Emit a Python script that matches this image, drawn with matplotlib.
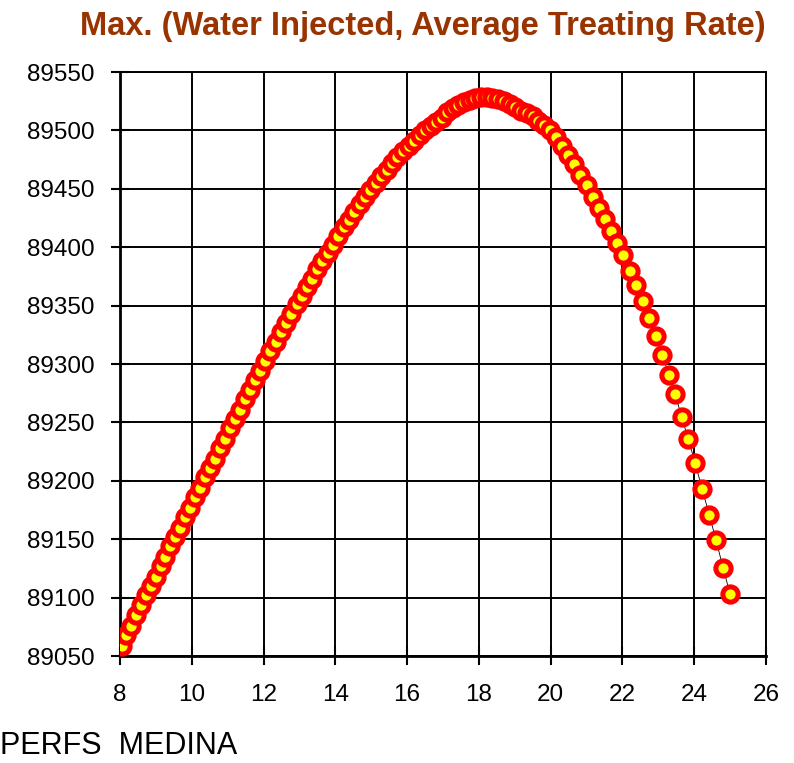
#!/usr/bin/env python3
import matplotlib
matplotlib.use("Agg")
import matplotlib.pyplot as plt

# ======== Data ========
TITLE = "Max. (Water Injected, Average Treating Rate)"
FOOTER = "PERFS  MEDINA"

rate = [
    8.05, 8.18, 8.32, 8.45, 8.59, 8.72, 8.86, 8.99, 9.13, 9.26, 9.40, 9.53, 9.67, 9.80, 9.94,
    10.08, 10.22, 10.36, 10.50, 10.64, 10.78, 10.92, 11.06, 11.20, 11.34, 11.48, 11.62, 11.76, 11.90,
    12.05, 12.19, 12.34, 12.48, 12.63, 12.77, 12.92, 13.06, 13.21, 13.35, 13.50, 13.64, 13.79, 13.93,
    14.08, 14.23, 14.38, 14.53, 14.68, 14.83, 14.98, 15.13, 15.28, 15.43, 15.58, 15.73, 15.88,
    16.04, 16.19, 16.35, 16.50, 16.66, 16.81, 16.97, 17.12, 17.28, 17.43, 17.59, 17.74, 17.90,
    18.06, 18.22, 18.38, 18.54, 18.70, 18.86, 19.02, 19.18, 19.34, 19.50, 19.66, 19.82, 19.98,
    20.15, 20.32, 20.49, 20.66, 20.83, 21.00, 21.17, 21.34, 21.51, 21.68, 21.85,
    22.03, 22.21, 22.39, 22.57, 22.75, 22.93, 23.11, 23.29, 23.47, 23.65, 23.83,
    24.03, 24.22, 24.42, 24.61, 24.81, 25.00,
]

value = [
    89059, 89068, 89076, 89085, 89094, 89102, 89110, 89118, 89127, 89135, 89144, 89152, 89160, 89169, 89177,
    89186, 89194, 89203, 89211, 89219, 89228, 89236, 89245, 89253, 89261, 89270, 89278, 89286, 89294,
    89303, 89311, 89319, 89327, 89335, 89343, 89351, 89358, 89366, 89373, 89381, 89388, 89395, 89402,
    89410, 89417, 89423, 89430, 89437, 89443, 89449, 89455, 89461, 89466, 89472, 89477, 89482,
    89487, 89491, 89496, 89500, 89504, 89507, 89511, 89516, 89519, 89522, 89524, 89526, 89528,
    89529, 89529, 89528, 89527, 89525, 89523, 89520, 89517, 89515, 89512, 89508, 89505, 89500,
    89494, 89487, 89479, 89471, 89462, 89453, 89443, 89434, 89424, 89414, 89404,
    89393, 89380, 89368, 89354, 89339, 89324, 89308, 89291, 89274, 89255, 89236,
    89215, 89193, 89171, 89149, 89125, 89103,
]

x_ticks = [8, 10, 12, 14, 16, 18, 20, 22, 24, 26]
y_ticks = [89050, 89100, 89150, 89200, 89250, 89300, 89350, 89400, 89450, 89500, 89550]

# ======== Plot ========
plt.rcParams["font.family"] = ["Liberation Sans", "DejaVu Sans"]

fig = plt.figure(figsize=(7.94, 7.63), dpi=100)
ax = fig.add_axes([0.1511, 0.1402, 0.8136, 0.7654])

ax.plot(rate, value, color="black", lw=0.6, zorder=2)
ax.plot(rate, value, linestyle="none", marker="o", markersize=11,
        markerfacecolor="#ffff00", markeredgecolor="#ff0000",
        markeredgewidth=3.6, zorder=3)

ax.set_xlim(8, 26)
ax.set_ylim(89050, 89550)
ax.set_xticks(x_ticks)
ax.set_yticks(y_ticks)
ax.set_xticklabels([str(t) for t in x_ticks])
ax.set_yticklabels([str(t) for t in y_ticks])
ax.grid(True, color="black", lw=1.4)
ax.set_axisbelow(True)

ax.tick_params(axis="both", direction="inout", length=13, width=1.5,
               labelsize=17.5, colors="black")
ax.tick_params(axis="y", pad=12)
ax.tick_params(axis="x", pad=14)

for side in ["left", "bottom"]:
    ax.spines[side].set_linewidth(2)
for side in ["top", "right"]:
    ax.spines[side].set_linewidth(1.4)

fig.text(0.532, 0.965, TITLE, ha="center", va="center", color="#993300",
         fontsize=23.5, fontweight="bold")
fig.text(0.0, 0.012, FOOTER, ha="left", va="baseline", color="black",
         fontsize=22)

fig.savefig("out.png", dpi=100)
